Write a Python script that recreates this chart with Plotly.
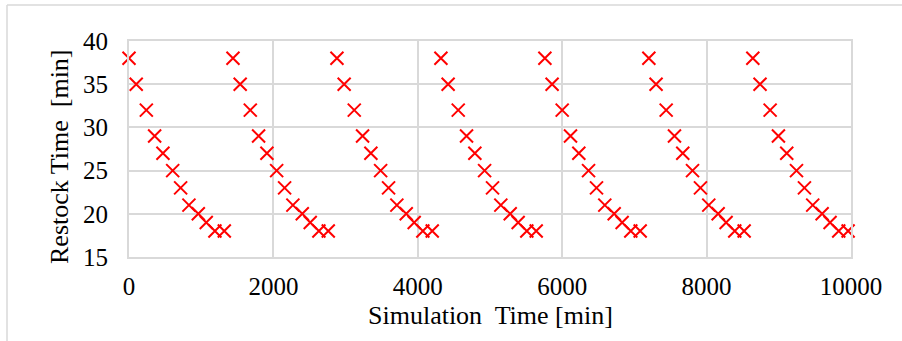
import plotly.graph_objects as go

# Simulation time [min] of each restock event (7 daily cycles)
sim_time = [
    0, 100, 240, 355, 470, 605, 715, 830, 960, 1070, 1190, 1320,
    1440, 1540, 1680, 1795, 1910, 2045, 2155, 2270, 2400, 2510, 2630, 2760,
    2880, 2980, 3120, 3235, 3350, 3485, 3595, 3710, 3840, 3950, 4070, 4200,
    4320, 4420, 4560, 4675, 4790, 4925, 5035, 5150, 5280, 5390, 5510, 5640,
    5760, 5860, 6000, 6115, 6230, 6365, 6475, 6590, 6720, 6830, 6950, 7080,
    7200, 7300, 7440, 7555, 7670, 7805, 7915, 8030, 8160, 8270, 8390, 8520,
    8640, 8740, 8880, 8995, 9110, 9245, 9355, 9470, 9600, 9710, 9830, 9960,
]
# Restock time [min]
restock_time = [
    38, 35, 32, 29, 27, 25, 23, 21, 20, 19, 18, 18,
    38, 35, 32, 29, 27, 25, 23, 21, 20, 19, 18, 18,
    38, 35, 32, 29, 27, 25, 23, 21, 20, 19, 18, 18,
    38, 35, 32, 29, 27, 25, 23, 21, 20, 19, 18, 18,
    38, 35, 32, 29, 27, 25, 23, 21, 20, 19, 18, 18,
    38, 35, 32, 29, 27, 25, 23, 21, 20, 19, 18, 18,
    38, 35, 32, 29, 27, 25, 23, 21, 20, 19, 18, 18,
]
x_ticks = [0, 2000, 4000, 6000, 8000, 10000]
y_ticks = [15, 20, 25, 30, 35, 40]
x_title = "Simulation\u00a0 Time [min]"
y_title = "Restock Time\u00a0 [min]"

FONT = "'Liberation Serif', 'Times New Roman', Times, serif"
GRID = "#d9d9d9"
TICK_SIZE = 25
TITLE_SIZE = 26

# plot-area geometry in pixels (used to place titles and the frame)
L, R, T, B, W, H = 129, 51, 41, 84, 902, 341
PW, PH = W - L - R, H - T - B


def px_x(p):
    return (p - L) / PW


def px_y(p):
    return (H - B - p) / PH


fig = go.Figure(
    go.Scatter(
        x=sim_time,
        y=restock_time,
        mode="markers",
        marker=dict(symbol="x-thin", size=13, line=dict(width=2, color="#ff0000"), color="#ff0000"),
        showlegend=False,
        cliponaxis=False,
    )
)

axis_common = dict(
    showgrid=True,
    gridcolor=GRID,
    gridwidth=2,
    zeroline=False,
    showline=True,
    linecolor=GRID,
    linewidth=2,
    mirror=True,
    ticks="",
    tickfont=dict(family=FONT, size=TICK_SIZE, color="#000000"),
    automargin=False,
)

fig.update_layout(
    width=W,
    height=H,
    margin=dict(l=L, r=R, t=T, b=B),
    paper_bgcolor="white",
    plot_bgcolor="white",
    font=dict(family=FONT, size=TICK_SIZE, color="#000000"),
    xaxis=dict(
        range=[0, 10000],
        tickvals=x_ticks,
        ticktext=[str(v) for v in x_ticks],
        ticklabelstandoff=6,
        **axis_common,
    ),
    yaxis=dict(
        range=[15, 40],
        tickvals=y_ticks,
        ticklabelstandoff=14,
        **axis_common,
    ),
    annotations=[
        dict(
            text=x_title, xref="paper", yref="paper",
            x=0.5, y=px_y(315), xanchor="center", yanchor="middle",
            showarrow=False, font=dict(family=FONT, size=TITLE_SIZE, color="#000000"),
        ),
        dict(
            text=y_title, xref="paper", yref="paper", textangle=-90,
            x=px_x(59), y=px_y(157), xanchor="center", yanchor="middle",
            showarrow=False, font=dict(family=FONT, size=TITLE_SIZE, color="#000000"),
        ),
    ],
    shapes=[
        dict(
            type="line", xref="paper", yref="paper",
            x0=px_x(7), x1=px_x(7), y0=px_y(5), y1=px_y(345),
            line=dict(color=GRID, width=1.5),
        ),
        dict(
            type="line", xref="paper", yref="paper",
            x0=px_x(7), x1=px_x(905), y0=px_y(5), y1=px_y(5),
            line=dict(color=GRID, width=1.5),
        ),
    ],
)

fig.write_html(
    "out.html",
    config={"displayModeBar": False},
    post_script="document.body.style.margin='0';",
)
